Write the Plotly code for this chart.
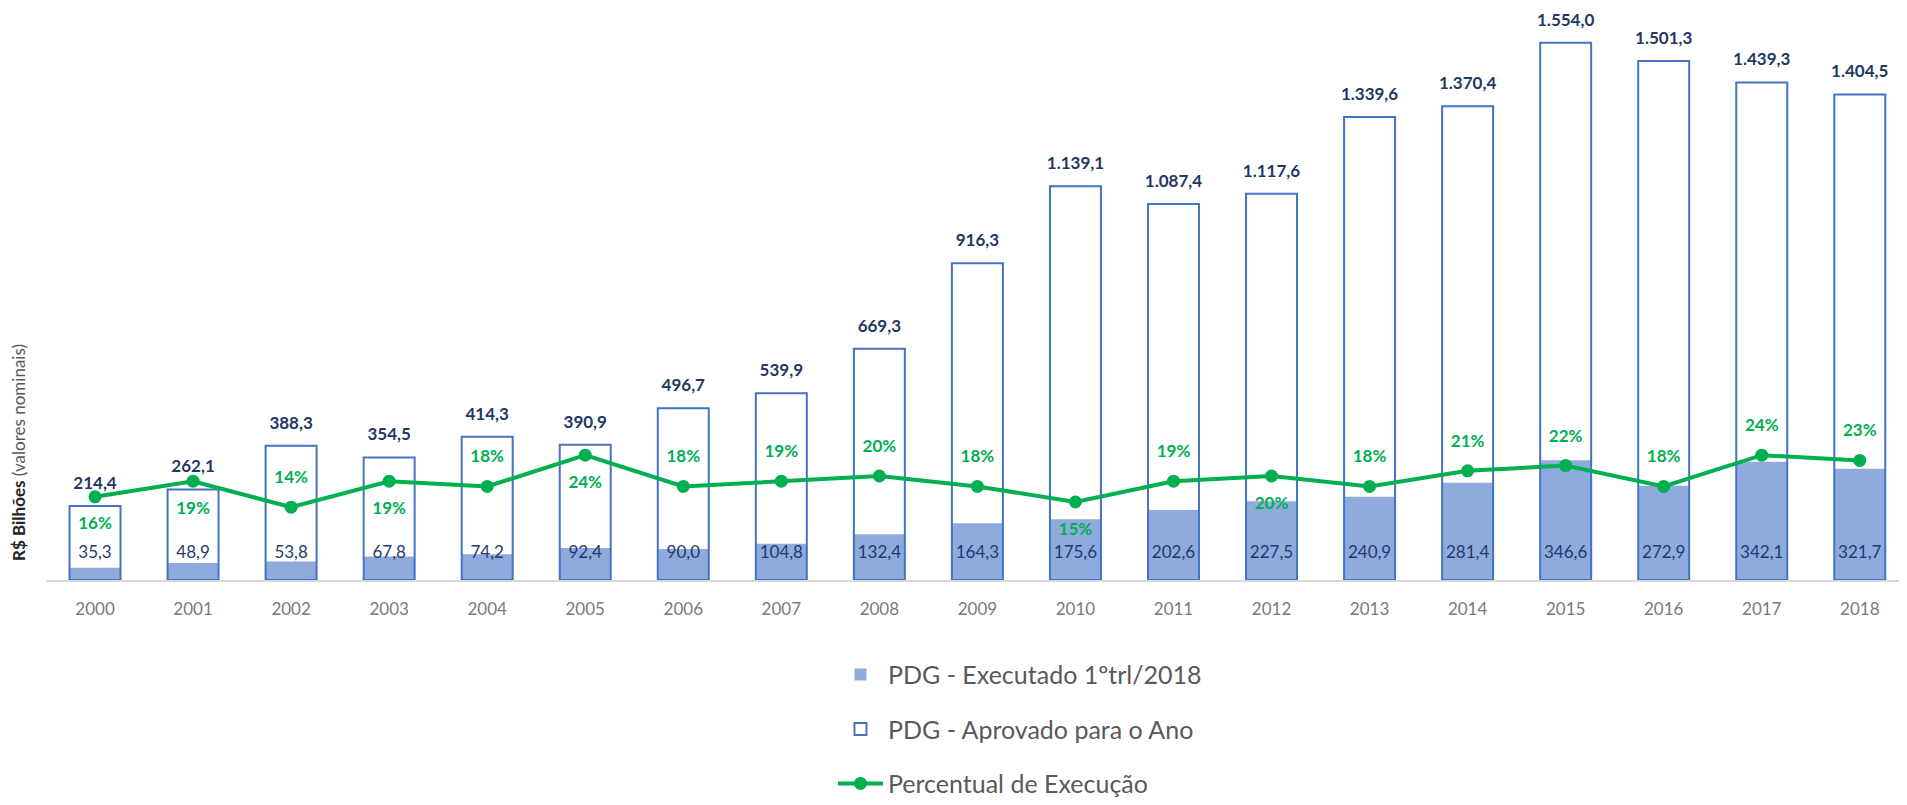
import plotly.graph_objects as go

# Dados (R$ bilhões, valores nominais)
anos = ['2000', '2001', '2002', '2003', '2004', '2005', '2006', '2007', '2008', '2009',
        '2010', '2011', '2012', '2013', '2014', '2015', '2016', '2017', '2018']
executado = [35.3, 48.9, 53.8, 67.8, 74.2, 92.4, 90.0, 104.8, 132.4, 164.3,
             175.6, 202.6, 227.5, 240.9, 281.4, 346.6, 272.9, 342.1, 321.7]
aprovado = [214.4, 262.1, 388.3, 354.5, 414.3, 390.9, 496.7, 539.9, 669.3, 916.3,
            1139.1, 1087.4, 1117.6, 1339.6, 1370.4, 1554.0, 1501.3, 1439.3, 1404.5]
percentual = [16, 19, 14, 19, 18, 24, 18, 19, 20, 18,
              15, 19, 20, 18, 21, 22, 18, 24, 23]
pos_percentual = ['bottom center', 'bottom center', 'top center', 'bottom center', 'top center',
                  'bottom center', 'top center', 'top center', 'top center', 'top center',
                  'bottom center', 'top center', 'bottom center', 'top center', 'top center',
                  'top center', 'top center', 'top center', 'top center']
base = [0] * len(anos)

AZUL = '#4472C4'
AZUL_CLARO = '#8FAADC'
AZUL_ESCURO = '#1F3864'
VERDE = '#00B050'
FONTE = 'Lato'


def br(v):
    # formato brasileiro: 1.554,0
    return f'{v:,.1f}'.replace(',', ' ').replace('.', ',').replace(' ', '.')


fig = go.Figure()

fig.add_trace(go.Bar(
    x=anos, y=executado, name='PDG - Executado 1ºtrl/2018',
    width=0.52, marker=dict(color=AZUL_CLARO, line=dict(width=0)),
    legendgroup='a', hoverinfo='skip'))

fig.add_trace(go.Bar(
    x=anos, y=aprovado, name='PDG - Aprovado para o Ano',
    width=0.52, marker=dict(color='rgba(255,255,255,0)', line=dict(color=AZUL, width=2)),
    legendgroup='b', hoverinfo='skip'))

fig.add_trace(go.Scatter(
    x=anos, y=percentual, name='Percentual de Execução', yaxis='y2',
    mode='lines+markers', line=dict(color=VERDE, width=4),
    marker=dict(color=VERDE, size=13),
    legendgroup='c', hoverinfo='skip'))

# rótulos
fig.add_trace(go.Scatter(
    x=anos, y=aprovado, mode='markers+text', showlegend=False, hoverinfo='skip',
    marker=dict(size=19, color='rgba(0,0,0,0)'),
    text=[br(v) for v in aprovado], textposition='top center', cliponaxis=False,
    textfont=dict(family=FONTE, size=17, color=AZUL_ESCURO, weight='bold')))

fig.add_trace(go.Scatter(
    x=anos, y=base, mode='markers+text', showlegend=False, hoverinfo='skip',
    marker=dict(size=27, color='rgba(0,0,0,0)'),
    text=[br(v) for v in executado], textposition='top center', cliponaxis=False,
    textfont=dict(family=FONTE, size=17, color='#1F3A70')))

fig.add_trace(go.Scatter(
    x=anos, y=percentual, yaxis='y2', mode='markers+text', showlegend=False, hoverinfo='skip',
    marker=dict(size=30, color='rgba(0,0,0,0)'),
    texttemplate='%{y}%', textposition=pos_percentual, cliponaxis=False,
    textfont=dict(family=FONTE, size=17, color=VERDE, weight='bold')))

fig.add_annotation(
    text="<b>R$ Bilhões</b> <span style='color:#595959'>(valores nominais)</span>",
    xref='paper', yref='paper', x=-0.0146, y=0.2286, xanchor='center', yanchor='middle',
    textangle=-90, showarrow=False, font=dict(family=FONTE, size=17, color='#262626'))

fig.update_layout(
    width=1891, height=789,
    barmode='overlay',
    plot_bgcolor='white', paper_bgcolor='white',
    font=dict(family=FONTE),
    margin=dict(l=38, r=0, t=12, b=217, autoexpand=False),
    xaxis=dict(type='category', range=[-0.5, 18.40], showgrid=False,
               showline=True, linecolor='#D9D9D9', linewidth=2,
               ticks='outside', ticklen=13, tickcolor='rgba(0,0,0,0)',
               tickfont=dict(family=FONTE, size=17, color='#7A7A7A')),
    yaxis=dict(range=[0, 1620], visible=False, showgrid=False),
    yaxis2=dict(range=[0, 107.7], overlaying='y', visible=False, showgrid=False),
    legend=dict(orientation='v', x=0.4247, xanchor='left', y=-0.128, yanchor='top',
                traceorder='grouped', tracegroupgap=19, itemwidth=45,
                font=dict(family=FONTE, size=25, color='#595959')),
    showlegend=True,
)

fig.write_html("out.html")
